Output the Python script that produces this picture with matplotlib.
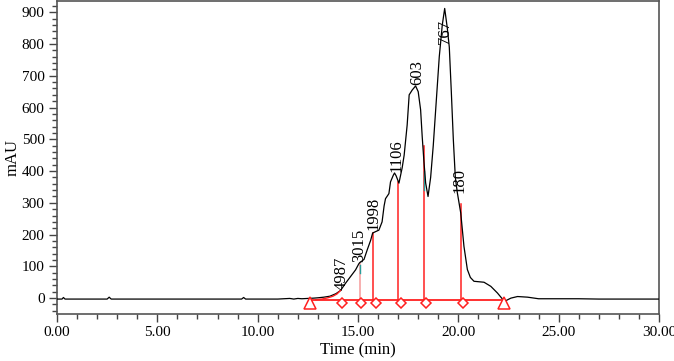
import matplotlib
matplotlib.use("Agg")
import matplotlib.pyplot as plt
from matplotlib.ticker import MultipleLocator, FormatStrFormatter

# ---- data ----
time = [0.0, 0.25, 0.32, 0.4, 0.6, 2.5, 2.6, 2.7, 5.0, 9.2, 9.3, 9.4, 11.0, 11.6, 11.8,
        12.0, 12.2, 12.5, 12.8, 13.0, 13.3, 13.6, 13.9, 14.13, 14.38, 14.63, 14.88,
        15.04, 15.09, 15.2, 15.3, 15.46, 15.63, 15.73, 15.9, 16.04, 16.2, 16.3, 16.37,
        16.54, 16.62, 16.76, 16.82, 16.9, 17.04, 17.2, 17.3, 17.45, 17.55, 17.7, 17.87,
        18.0, 18.12, 18.2, 18.28, 18.37, 18.49, 18.62, 18.75, 18.9, 19.05, 19.2, 19.32,
        19.45, 19.55, 19.65, 19.75, 19.85, 19.95, 20.12, 20.28, 20.45, 20.6, 20.78,
        21.28, 21.62, 21.95, 22.2, 22.37, 22.62, 22.95, 23.45, 24.0, 26.0, 27.0, 30.0]
signal = [-3, -3, 2, -3, -3, -3, 3, -3, -3, -3, 2, -3, -3, -1, -3,
          -1, -2, -1, 0, 1, 3, 6, 14, 24, 47, 68, 89,
          108, 112, 117, 122, 152, 182, 205, 210, 214, 240, 290, 313,
          329, 366, 387, 394, 385, 362, 410, 450, 545, 640, 655, 668,
          650, 593, 508, 435, 363, 320, 380, 480, 620, 760, 860, 912,
          850, 790, 650, 500, 380, 332, 268, 163, 90, 65, 53,
          50, 37, 16, -3, -8, 0, 5, 3, -2, -2, -3, -3]

peak_labels = ["4987", "3015", "1998", "1106", "603", "767", "180"]
label_time = [14.2, 15.05, 15.78, 16.93, 17.93, 19.33, 20.08]
label_level = [26, 114, 215, 398, 672, 800, 332]

drop_time = [15.09, 15.73, 17.0, 18.27, 20.13]
drop_level = [110, 205, 365, 480, 295]
drop_color = ["#f59a9a", "#ff2020", "#ff2020", "#ff2020", "#ff2020"]

skim_time = [12.9, 13.2, 13.5, 13.75, 13.95, 14.13]
skim_level = [-5, -3, 1, 6, 13, 24]

baseline_start, baseline_end = 12.63, 22.27
tri_time = [12.63, 22.27]
diamond_time = [14.18, 15.13, 15.9, 17.12, 18.37, 20.21]
marker_level = -14

xticks = [0, 5, 10, 15, 20, 25, 30]
yticks = [0, 100, 200, 300, 400, 500, 600, 700, 800, 900]

# ---- plot ----
plt.rcParams['font.family'] = ['Liberation Serif', 'DejaVu Serif']
fig = plt.figure(figsize=(6.74, 3.61), dpi=100)
ax = fig.add_axes([57/674, 47/361, 602/674, 313.5/361])

red = "#ff2020"
ax.plot([baseline_start, baseline_end], [-5, -5], color=red, lw=1.3, zorder=2)
ax.plot(skim_time, skim_level, color=red, lw=1.0, zorder=4)
for t, h, c in zip(drop_time, drop_level, drop_color):
    ax.plot([t, t], [-5, h], color=c, lw=1.1, zorder=2)
ax.plot([15.08, 15.08], [80, 105], color="#2a9d9a", lw=1.0, zorder=3)
ax.plot([18.31, 18.31], [340, 400], color="#2a9d9a", lw=1.0, zorder=3)

ax.plot(time, signal, color="black", lw=0.9, zorder=3)

ax.plot(tri_time, [marker_level]*2, linestyle="none", marker="^", ms=8,
        mfc="white", mec=red, mew=1.1, zorder=5)
ax.plot(diamond_time, [marker_level]*len(diamond_time), linestyle="none", marker="D",
        ms=5.5, mfc="white", mec=red, mew=1.1, zorder=5)

for lab, t, h in zip(peak_labels, label_time, label_level):
    ax.text(t, h, lab, rotation=90, ha="center", va="bottom", fontsize=12, zorder=6)

ax.set_xlim(0, 30)
ax.set_ylim(-50, 937)
ax.set_xticks(xticks)
ax.set_yticks(yticks)
ax.xaxis.set_major_formatter(FormatStrFormatter("%.2f"))
ax.xaxis.set_minor_locator(MultipleLocator(1))
ax.yaxis.set_minor_locator(MultipleLocator(20))
ax.tick_params(which="major", direction="out", length=6, width=1.0, labelsize=11,
               colors="#444444", labelcolor="black", pad=3)
ax.tick_params(which="minor", direction="out", length=3.5, width=1.0, colors="#444444")
for s in ax.spines.values():
    s.set_color("#555555")
    s.set_linewidth(1.2)

ax.set_xlabel("Time (min)", fontsize=12, labelpad=2)
ax.set_ylabel("mAU", fontsize=12, labelpad=1)

fig.savefig("out.png", dpi=100)
